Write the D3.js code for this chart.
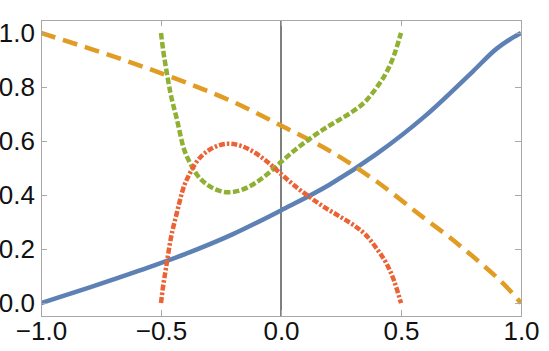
<!DOCTYPE html>
<html>
<head>
<meta charset="utf-8">
<script src="https://cdn.jsdelivr.net/npm/d3@7"></script>
<style>
  body { margin: 0; background: #fff; }
  .tick-label { font-family: "Liberation Sans", Arial, sans-serif; font-size: 26px; fill: #111; }
</style>
</head>
<body>
<script>
// Figure dimensions
const W = 549, H = 351;
const margin = { top: 20, right: 28, bottom: 35, left: 41 };

// Data
const blueX   = [-1, -0.8, -0.6, -0.4, -0.2, 0, 0.2, 0.4, 0.6, 0.8, 0.9, 0.95, 1];
const blueY   = [0, 0.057, 0.117, 0.181, 0.255, 0.343, 0.437, 0.553, 0.692, 0.858, 0.943, 0.974, 1];

const orangeX = [-1, -0.8, -0.6, -0.4, -0.2, 0, 0.2, 0.4, 0.6, 0.7, 0.8, 0.9, 0.95, 1];
const orangeY = [1, 0.943, 0.883, 0.818, 0.745, 0.657, 0.565, 0.449, 0.312, 0.245, 0.172, 0.094, 0.05, 0];

const greenX  = [-0.5, -0.49, -0.48, -0.46, -0.435, -0.407, -0.38, -0.35, -0.31, -0.27, -0.22, -0.17, -0.115, -0.06, 0, 0.06, 0.12, 0.18, 0.24, 0.3, 0.35, 0.4, 0.44, 0.47, 0.5];
const greenY  = [1, 0.93, 0.875, 0.775, 0.685, 0.578, 0.52, 0.475, 0.44, 0.42, 0.41, 0.417, 0.44, 0.475, 0.522, 0.568, 0.608, 0.645, 0.677, 0.71, 0.745, 0.8, 0.855, 0.915, 1];

const redX    = [-0.5, -0.49, -0.48, -0.46, -0.435, -0.407, -0.38, -0.35, -0.31, -0.27, -0.22, -0.17, -0.115, -0.06, 0, 0.06, 0.12, 0.18, 0.24, 0.3, 0.35, 0.4, 0.44, 0.47, 0.5];
const redY    = [0, 0.07, 0.125, 0.235, 0.33, 0.425, 0.48, 0.525, 0.56, 0.58, 0.59, 0.583, 0.56, 0.525, 0.478, 0.432, 0.392, 0.355, 0.323, 0.29, 0.255, 0.2, 0.145, 0.085, 0];

const xTicks = [-1, -0.5, 0, 0.5, 1];
const yTicks = [0, 0.2, 0.4, 0.6, 0.8, 1];

const series = [
  { xs: blueX,   ys: blueY,   color: '#5E81B5', dash: null },
  { xs: orangeX, ys: orangeY, color: '#E19C24', dash: '15,8' },
  { xs: greenX,  ys: greenY,  color: '#8FB032', dash: '6.5,2.5' },
  { xs: redX,    ys: redY,    color: '#EB6235', dash: '6,2,2.5,2' }
];

// Scales
const x = d3.scaleLinear().domain([-1, 1]).range([margin.left, W - margin.right]);
const y = d3.scaleLinear().domain([-0.048, 1.048]).range([H - margin.bottom, margin.top]);

const svg = d3.select('body').append('svg')
  .attr('width', W)
  .attr('height', H);

svg.append('defs').append('clipPath').attr('id', 'plot-clip')
  .append('rect')
    .attr('x', x(-1)).attr('y', y(1.048))
    .attr('width', x(1) - x(-1)).attr('height', y(-0.048) - y(1.048));

// Zero axis
svg.append('line')
  .attr('x1', x(0)).attr('x2', x(0))
  .attr('y1', y(1.048)).attr('y2', y(-0.048))
  .attr('stroke', '#000').attr('stroke-width', 1);

// Curves
const line = d3.line()
  .x(d => x(d[0]))
  .y(d => y(d[1]))
  .curve(d3.curveMonotoneX);

const plot = svg.append('g').attr('clip-path', 'url(#plot-clip)');
series.forEach(s => {
  plot.append('path')
    .datum(s.xs.map((v, i) => [v, s.ys[i]]))
    .attr('d', line)
    .attr('fill', 'none')
    .attr('stroke', s.color)
    .attr('stroke-width', 4.5)
    .attr('stroke-dasharray', s.dash);
});

// Frame with ticks on all sides
const frameColor = '#a8a8a8';
const fmt = d => d3.format('.1f')(d).replace('-', '\u2212');

const axBottom = svg.append('g').attr('transform', `translate(0,${y(-0.048)})`);
axBottom.call(d3.axisBottom(x).tickValues(d3.range(-1, 1.001, 0.1)).tickSize(-3).tickFormat(''));
axBottom.call(d3.axisBottom(x).tickValues(xTicks).tickSize(-6).tickPadding(6).tickFormat(fmt));

const axTop = svg.append('g').attr('transform', `translate(0,${y(1.048)})`);
axTop.call(d3.axisTop(x).tickValues(d3.range(-1, 1.001, 0.1)).tickSize(-3).tickFormat(''));
axTop.call(d3.axisTop(x).tickValues(xTicks).tickSize(-6).tickFormat(''));

const axLeft = svg.append('g').attr('transform', `translate(${x(-1)},0)`);
axLeft.call(d3.axisLeft(y).tickValues(d3.range(0, 1.001, 0.05)).tickSize(-3).tickFormat(''));
axLeft.call(d3.axisLeft(y).tickValues(yTicks).tickSize(-6).tickPadding(6).tickFormat(fmt));

const axRight = svg.append('g').attr('transform', `translate(${x(1)},0)`);
axRight.call(d3.axisRight(y).tickValues(d3.range(0, 1.001, 0.05)).tickSize(-3).tickFormat(''));
axRight.call(d3.axisRight(y).tickValues(yTicks).tickSize(-6).tickFormat(''));

svg.selectAll('.domain').attr('stroke', frameColor);
svg.selectAll('.tick line').attr('stroke', frameColor);
svg.selectAll('.tick text').attr('class', 'tick-label').attr('font-size', null).attr('font-family', null);
</script>
</body>
</html>
